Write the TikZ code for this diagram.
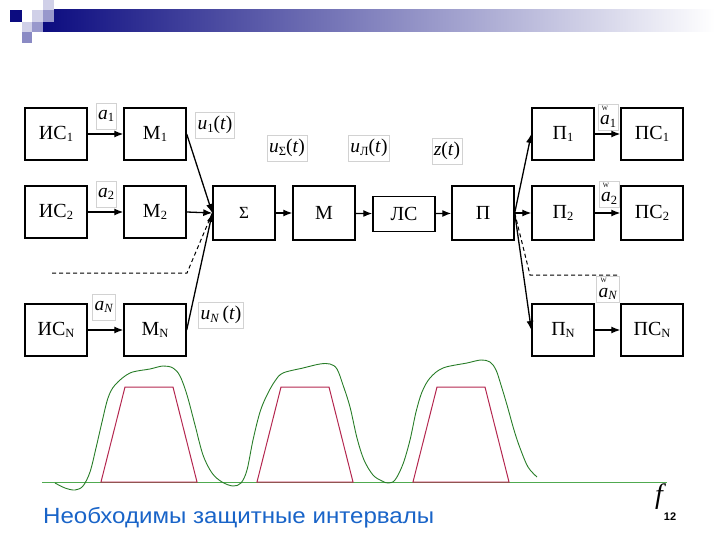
\documentclass[tikz,border=0pt]{standalone}
\usepackage{fontspec}
\setmainfont{Liberation Serif}
\newfontfamily\arialf{Liberation Sans}
\usetikzlibrary{arrows.meta}
\definecolor{navy}{RGB}{12,12,128}
\definecolor{lav1}{RGB}{208,208,232}
\definecolor{lav2}{RGB}{152,152,204}
\definecolor{lav3}{RGB}{138,138,196}
\definecolor{cgreen}{RGB}{40,125,40}
\definecolor{bgreen}{RGB}{80,170,80}
\definecolor{cred}{RGB}{180,40,80}
\definecolor{tblue}{RGB}{25,100,200}
\newcommand{\ms}[1]{\raisebox{-0.3ex}{\fontsize{12.5}{12.5}\selectfont #1}}
\newcommand{\wa}{\leavevmode\rlap{\raisebox{0.74em}{\hspace{0.1em}\fontsize{6.5}{6.5}\selectfont W}}\textit{a}}
\tikzset{
  blk/.style={draw, line width=1.4pt, minimum width=62pt, minimum height=52pt, inner sep=0pt, font=\fontsize{20}{20}\selectfont},
  lab/.style={draw=gray!35, line width=0.5pt, inner xsep=2pt, inner ysep=1pt, minimum height=26pt, font=\fontsize{19.5}{19.5}\selectfont},
  arr/.style={line width=1.3pt, -{Latex[length=9pt,width=7pt]}},
  dsh/.style={line width=1pt, dash pattern=on 4pt off 3pt}
}
\begin{document}
\begin{tikzpicture}[x=1pt,y=-1pt]
\useasboundingbox (0,0) rectangle (720,540);
% header
\shade[left color=navy, right color=white] (43,10) rectangle (715,32);
\fill[lav1] (43,0) rectangle (54,10);
\fill[navy] (10,10) rectangle (22,22);
\fill[lav1] (32,10) rectangle (43,22);
\fill[lav2] (43,10) rectangle (54,22);
\fill[lav1] (22,22) rectangle (32,32);
\fill[lav2] (32,22) rectangle (43,32);
\fill[lav3] (22,32) rectangle (32,43);
% blocks
\node[blk] (is1) at (56,134) {ИС\ms{1}};
\node[blk] (m1) at (155,134) {М\ms{1}};
\node[blk] (is2) at (56,212) {ИС\ms{2}};
\node[blk] (m2) at (155,212) {М\ms{2}};
\node[blk] (isn) at (56,330) {ИС\ms{N}};
\node[blk] (mn) at (155,330) {М\ms{N}};
\node[blk, minimum height=54pt] (sum) at (244,213) {\fontsize{17}{17}\selectfont Σ};
\node[blk, minimum height=54pt] (mod) at (324,213) {М};
\node[blk, minimum height=35pt] (ls) at (404,214) {ЛС};
\node[blk, minimum height=54pt] (p) at (483,213) {П};
\node[blk] (p1) at (563,134) {П\ms{1}};
\node[blk] (ps1) at (652,134) {ПС\ms{1}};
\node[blk, minimum height=54pt] (p2) at (563,213) {П\ms{2}};
\node[blk, minimum height=54pt] (ps2) at (652,213) {ПС\ms{2}};
\node[blk] (pn) at (563,330) {П\ms{N}};
\node[blk] (psn) at (652,330) {ПС\ms{N}};
% labels
\node[lab] (la1) at (106,116) {\textit{a}\ms{1}};
\node[lab] (la2) at (106,194) {\textit{a}\ms{2}};
\node[lab] (lan) at (104,307) {\textit{a}\ms{\textit{N}}};
\node[lab] (lu1) at (215,125) {\textit{u}\ms{1}(\textit{t})};
\node[lab] (lun) at (221,315) {\textit{u}\ms{\textit{N}}\,(\textit{t})};
\node[lab] (lus) at (287,148) {\textit{u}\ms{Σ}(\textit{t})};
\node[lab] (lul) at (369,148) {\textit{u}\ms{Л}(\textit{t})};
\node[lab] (lz) at (447,151) {\textit{z}(\textit{t})};
\node[lab] (lh1) at (608,117) {\wa\ms{1}};
\node[lab] (lh2) at (609,194) {\wa\ms{2}};
\node[lab] (lhn) at (608,289) {\wa\ms{\textit{N}}};
% connectors left
\draw[arr] (is1) -- (m1);
\draw[arr] (is2) -- (m2);
\draw[arr] (isn) -- (mn);
\draw[arr] (m1.east) -- (sum.west);
\draw[arr] (m2.east) -- (sum.west);
\draw[arr] (mn.east) -- (sum.west);
\coordinate (dl0) at (52,273);
\coordinate (dl1) at (187,273);
\draw[dsh] (dl0) -- (dl1) -- (sum.west);
% chain
\draw[arr] (sum) -- (mod);
\draw[arr] (mod) -- (ls);
\draw[arr] (ls) -- (p);
\draw[arr] (p) -- (p2);
\draw[arr] (p.east) -- (p1.west);
\draw[arr] (p.east) -- (pn.west);
\coordinate (dr1) at (530,275);
\coordinate (dr2) at (618,275);
\draw[dsh] (p.east) -- (dr1) -- (dr2);
\draw[arr] (p1) -- (ps1);
\draw[arr] (p2) -- (ps2);
\draw[arr] (pn) -- (psn);
% spectrum
\draw[bgreen, line width=0.9pt] (42,482) -- (667,482);
\foreach \o in {0,156,312}{
  \draw[cred, line width=1pt] ({101+\o},482) -- ({125+\o},387) -- ({173+\o},387) -- ({197+\o},482) -- cycle;
}
\draw[cgreen, line width=0.9pt] plot[smooth, tension=0.55] coordinates {
 (55,483) (65,488) (75,490) (83,486) (90,472) (96,448) (102,422) (108,398) (115,385) (130,373) (150,369) (163,366) (173,368) (180,376) (187,395) (195,425) (203,455) (212,473) (222,482) (233,486) (241,483)
 (247,470) (253,440) (260,412) (267,395) (275,381) (283,373) (303,368) (320,364) (330,364) (337,369) (343,385) (350,407) (357,438) (364,460) (373,475) (382,481) (388,483) (395,480) (403,464) (410,440) (416,412) (422,392) (430,378) (443,368) (467,363) (481,360) (490,362) (496,370) (501,385) (507,405) (514,430) (520,448) (528,467) (537,477)};
\node[font=\fontsize{28}{28}\selectfont\itshape] (f) at (659,497) {f};
\node[font=\arialf\bfseries\fontsize{11}{11}\selectfont] (pg) at (670,517) {12};
\node[anchor=base west, inner sep=0pt, text=tblue, font=\arialf\fontsize{22}{22}\selectfont] (title) at (43,523) {\scalebox{1.095}[1]{Необходимы защитные интервалы}};
\end{tikzpicture}
\end{document}
